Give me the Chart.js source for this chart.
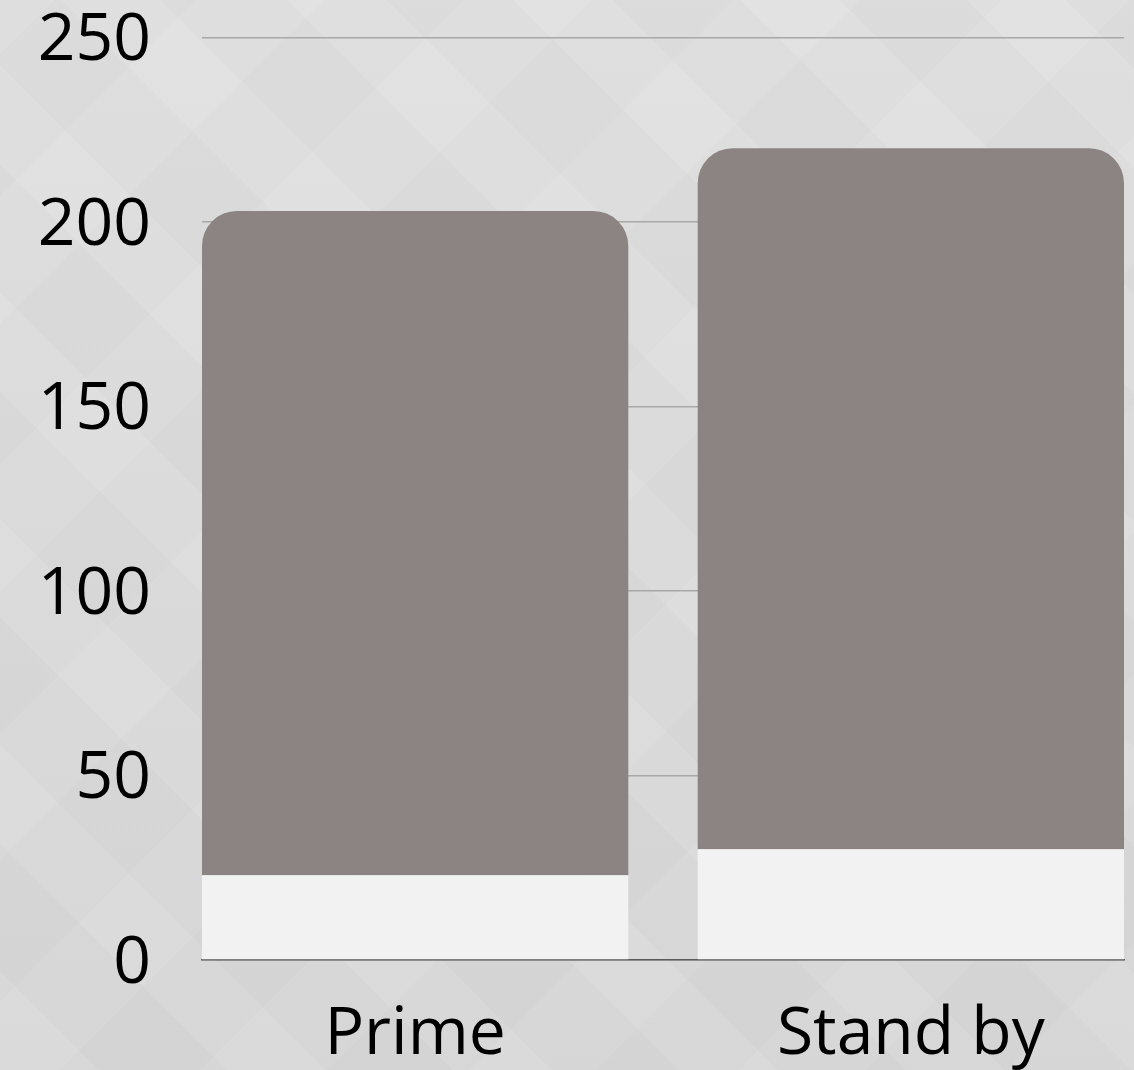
<!DOCTYPE html>
<html>
<head>
<meta charset="utf-8">
<title>Prime / Stand by</title>
<script src="https://cdn.jsdelivr.net/npm/chart.js@4.4.1/dist/chart.umd.min.js"></script>
<style>
  html, body {
    margin: 0;
    padding: 0;
  }
  body {
    width: 1134px;
    height: 1070px;
    overflow: hidden;
    background:
      repeating-linear-gradient(45deg, rgba(255,255,255,0.035) 0 70px, rgba(0,0,0,0.01) 70px 160px),
      repeating-linear-gradient(-45deg, rgba(255,255,255,0.03) 0 90px, rgba(0,0,0,0.008) 90px 190px),
      linear-gradient(180deg, #e0e0e0 0%, #dbdbdb 60%, #d8d8d8 100%);
  }
  .wrap {
    position: relative;
    width: 1134px;
    height: 1070px;
  }
</style>
</head>
<body>
<div class="wrap">
  <canvas id="shiftChart"></canvas>
</div>
<script>
// categories and stacked values
const categories = ['Prime', 'Stand by'];
const baseValues = [23, 30];
const topValues = [180, 190];
const yTicks = [0, 50, 100, 150, 200, 250];

const tickFont = { family: '"Open Sans", "Noto Sans", sans-serif', size: 66, lineHeight: 1.1 };

// x is a linear index axis so the bars can sit wider than a plain category slot
const toPoints = values => values.map((v, i) => ({ x: i, y: v }));

new Chart(document.getElementById('shiftChart'), {
  type: 'bar',
  data: {
    datasets: [
      {
        label: 'base',
        data: toPoints(baseValues),
        backgroundColor: '#f2f2f2',
        borderRadius: 0,
        borderSkipped: false,
        categoryPercentage: 1,
        barPercentage: 0.86
      },
      {
        label: 'top',
        data: toPoints(topValues),
        backgroundColor: '#8c8482',
        borderRadius: { topLeft: 35, topRight: 35, bottomLeft: 0, bottomRight: 0 },
        borderSkipped: false,
        categoryPercentage: 1,
        barPercentage: 0.86
      }
    ]
  },
  options: {
    responsive: true,
    maintainAspectRatio: false,
    animation: false,
    layout: { padding: { left: 35, right: 10, top: 0, bottom: 0 } },
    plugins: {
      legend: { display: false },
      tooltip: { enabled: false }
    },
    scales: {
      x: {
        type: 'linear',
        stacked: true,
        offset: false,
        bounds: 'data',
        min: -0.43,
        max: 1.43,
        z: 1,
        grid: { display: false, drawTicks: false, offset: false },
        border: { display: true, color: '#5a5a5a', width: 1.5 },
        afterBuildTicks: axis => {
          axis.ticks = categories.map((_, i) => ({ value: i }));
        },
        afterFit: axis => {
          // fixed band under the plot, no side padding from the labels
          axis.height = 110;
          axis.paddingLeft = 0;
          axis.paddingRight = 0;
        },
        ticks: {
          color: '#000',
          font: tickFont,
          padding: 39,
          maxRotation: 0,
          autoSkip: false,
          callback: value => categories[value]
        }
      },
      y: {
        stacked: true,
        min: 0,
        max: 250,
        grid: { color: '#a8a8a8', lineWidth: 1.5, drawTicks: false },
        border: { display: false },
        afterBuildTicks: axis => {
          axis.ticks = yTicks.map(v => ({ value: v }));
        },
        afterFit: axis => {
          axis.width = 167;
          axis.paddingTop = 37.5;
          axis.paddingBottom = 0;
        },
        ticks: {
          color: '#000',
          font: tickFont,
          padding: 51,
          labelOffset: 4
        }
      }
    }
  }
});
</script>
</body>
</html>
